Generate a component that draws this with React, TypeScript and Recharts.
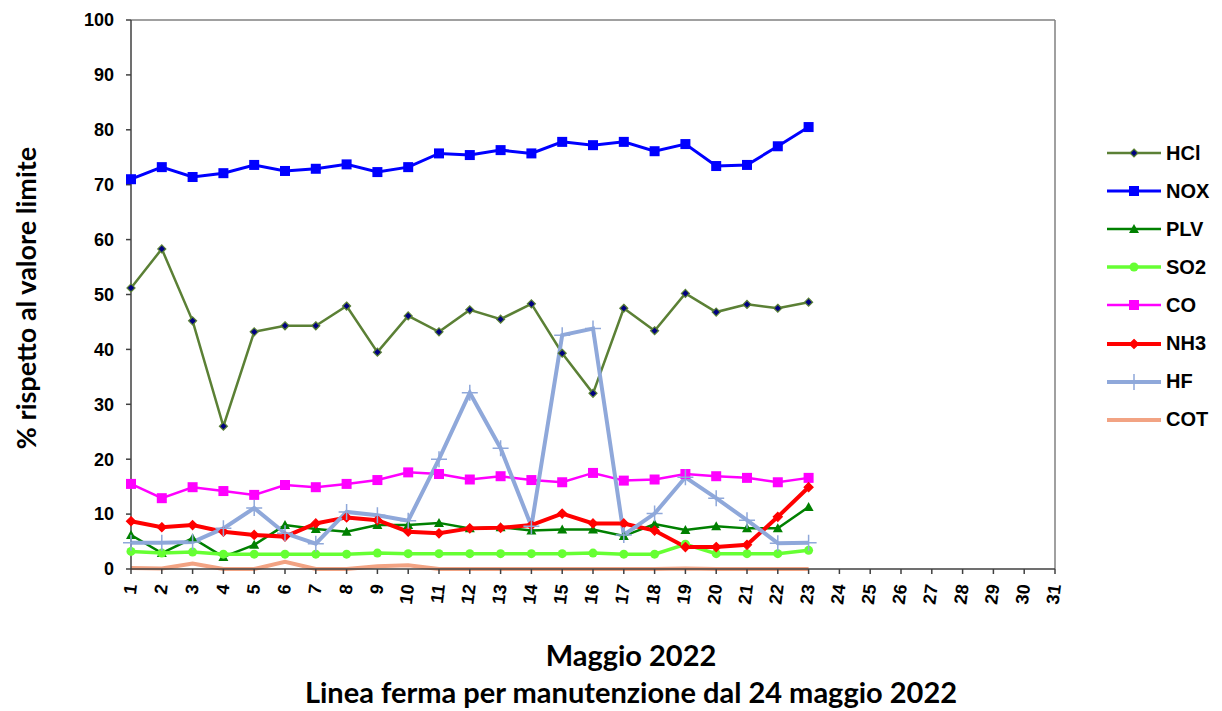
import React from 'react';
import { LineChart, Line, XAxis, YAxis, ReferenceLine } from 'recharts';

// days with measurements (line stopped from May 24)
const days = [1, 2, 3, 4, 5, 6, 7, 8, 9, 10, 11, 12, 13, 14, 15, 16, 17, 18, 19, 20, 21, 22, 23];
const xTicks = [1, 2, 3, 4, 5, 6, 7, 8, 9, 10, 11, 12, 13, 14, 15, 16, 17, 18, 19, 20, 21, 22, 23, 24, 25, 26, 27, 28, 29, 30, 31];
const yTicks = [0, 10, 20, 30, 40, 50, 60, 70, 80, 90, 100];

const hcl = [51.2, 58.3, 45.2, 26.0, 43.2, 44.3, 44.3, 47.9, 39.5, 46.1, 43.2, 47.2, 45.5, 48.3, 39.3, 32.0, 47.5, 43.4, 50.2, 46.8, 48.2, 47.5, 48.6];
const nox = [71.0, 73.2, 71.4, 72.1, 73.6, 72.5, 72.9, 73.7, 72.3, 73.2, 75.7, 75.4, 76.3, 75.7, 77.8, 77.2, 77.8, 76.1, 77.4, 73.4, 73.6, 77.0, 80.5];
const plv = [6.2, 2.9, 5.6, 2.2, 4.4, 8.0, 7.3, 6.8, 8.0, 8.0, 8.4, 7.4, 7.6, 7.0, 7.2, 7.2, 6.0, 8.2, 7.1, 7.8, 7.4, 7.4, 11.3];
const so2 = [3.2, 2.9, 3.1, 2.7, 2.7, 2.7, 2.7, 2.7, 2.9, 2.8, 2.8, 2.8, 2.8, 2.8, 2.8, 2.9, 2.7, 2.7, 4.5, 2.8, 2.8, 2.8, 3.4];
const co = [15.5, 12.9, 14.9, 14.2, 13.5, 15.3, 14.9, 15.5, 16.2, 17.6, 17.3, 16.3, 16.9, 16.2, 15.8, 17.5, 16.1, 16.3, 17.3, 16.9, 16.6, 15.8, 16.6];
const nh3 = [8.7, 7.6, 8.0, 6.8, 6.2, 5.9, 8.3, 9.4, 8.9, 6.8, 6.5, 7.4, 7.5, 8.0, 10.1, 8.3, 8.3, 7.0, 4.0, 4.0, 4.4, 9.5, 14.9];
const hf = [4.8, 4.8, 4.9, 7.4, 11.1, 6.5, 4.6, 10.4, 9.8, 8.8, 20.0, 32.1, 22.0, 7.8, 42.6, 43.8, 6.2, 10.1, 16.7, 12.9, 8.9, 4.7, 4.8];
const cot = [0.2, 0.1, 1.0, 0.0, 0.0, 1.3, 0.0, 0.0, 0.5, 0.7, 0.0, 0.0, 0.0, 0.0, 0.0, 0.0, 0.0, 0.0, 0.1, 0.0, 0.0, 0.0, 0.0];

const data = days.map((d, i) => ({
  day: d,
  HCl: hcl[i],
  NOX: nox[i],
  PLV: plv[i],
  SO2: so2[i],
  CO: co[i],
  NH3: nh3[i],
  HF: hf[i],
  COT: cot[i],
}));

type Marker = 'diamond' | 'square' | 'triangle' | 'circle' | 'smalldiamond' | 'plus' | 'none';

const series: { key: string; color: string; width: number; marker: Marker; size: number; fill: string }[] = [
  { key: 'HCl', color: '#5B8035', width: 2.5, marker: 'diamond', size: 4, fill: '#000080' },
  { key: 'NOX', color: '#0000FF', width: 3, marker: 'square', size: 5, fill: '#0000FF' },
  { key: 'PLV', color: '#008000', width: 2.5, marker: 'triangle', size: 5, fill: '#008000' },
  { key: 'SO2', color: '#66FF33', width: 3.5, marker: 'circle', size: 4.5, fill: '#66FF33' },
  { key: 'CO', color: '#FF00FF', width: 2.5, marker: 'square', size: 5, fill: '#FF00FF' },
  { key: 'NH3', color: '#FF0000', width: 4, marker: 'smalldiamond', size: 4.5, fill: '#FF0000' },
  { key: 'HF', color: '#8FA8DA', width: 4, marker: 'plus', size: 8, fill: '#8FA8DA' },
  { key: 'COT', color: '#F2A383', width: 4, marker: 'none', size: 0, fill: '#F2A383' },
];

const drawMarker = (m: Marker, cx: number, cy: number, s: number, color: string, fill: string, key?: string) => {
  if (m === 'diamond' || m === 'smalldiamond')
    return <path key={key} d={`M${cx},${cy - s}L${cx + s},${cy}L${cx},${cy + s}L${cx - s},${cy}Z`} fill={fill} stroke={color} strokeWidth={1.2} />;
  if (m === 'square')
    return <rect key={key} x={cx - s} y={cy - s} width={s * 2} height={s * 2} fill={fill} />;
  if (m === 'triangle')
    return <path key={key} d={`M${cx},${cy - s}L${cx + s},${cy + s * 0.8}L${cx - s},${cy + s * 0.8}Z`} fill={fill} />;
  if (m === 'circle')
    return <circle key={key} cx={cx} cy={cy} r={s} fill={fill} />;
  if (m === 'plus')
    return <path key={key} d={`M${cx - s},${cy}H${cx + s}M${cx},${cy - s}V${cy + s}`} stroke={color} strokeWidth={1.5} />;
  return <g key={key} />;
};

const makeDot = (sr: (typeof series)[number]) => (props: any) => {
  const { cx, cy, index } = props;
  if (cx == null || cy == null) return <g key={`${sr.key}-${index}`} />;
  return drawMarker(sr.marker, cx, cy, sr.size, sr.color, sr.fill, `${sr.key}-${index}`);
};

const XTick = (props: any) => {
  const { x, payload } = props;
  const ax = x + 6;
  const ay = 585;
  return (
    <text x={ax} y={ay} transform={`rotate(-83 ${ax} ${ay})`} textAnchor="end" fontFamily="'Liberation Sans', Arial, sans-serif" fontWeight="bold" fontSize={18} fill="#000">
      {payload.value}
    </text>
  );
};

const font = "'Liberation Sans', Arial, sans-serif";
const titleFont = "Lato, 'Open Sans', sans-serif";

export default function App() {
  return (
    <div style={{ position: 'absolute', left: 0, top: 0, width: 1222, height: 711, background: '#fff' }}>
      <LineChart width={1222} height={711} data={data} margin={{ top: 20, right: 167, bottom: 102, left: 71 }}>
        <XAxis
          dataKey="day"
          type="number"
          domain={[1, 31]}
          ticks={xTicks}
          interval={0}
          tick={<XTick />}
          tickSize={5}
          stroke="#404040"
          strokeWidth={1.5}
          height={40}
        />
        <YAxis
          type="number"
          domain={[0, 100]}
          ticks={yTicks}
          interval={0}
          width={60}
          tickSize={5}
          tickMargin={12}
          stroke="#404040"
          strokeWidth={1.5}
          tick={{ fill: '#000', fontFamily: font, fontWeight: 'bold', fontSize: 18 }}
        />
        <ReferenceLine y={100} stroke="#808080" strokeWidth={1.5} />
        <ReferenceLine x={31} stroke="#808080" strokeWidth={1.5} />
        {series.map((sr) => (
          <Line
            key={sr.key}
            dataKey={sr.key}
            type="linear"
            stroke={sr.color}
            strokeWidth={sr.width}
            dot={sr.marker === 'none' ? false : makeDot(sr)}
            activeDot={false}
            isAnimationActive={false}
          />
        ))}
      </LineChart>

      {/* y axis title */}
      <div
        style={{
          position: 'absolute',
          left: 25,
          top: 298,
          transform: 'translate(-50%, -50%) rotate(-90deg)',
          whiteSpace: 'nowrap',
          fontFamily: titleFont,
          fontWeight: 'bold',
          fontSize: 27,
        }}
      >
        % rispetto al valore limite
      </div>

      {/* x axis titles */}
      <div style={{ position: 'absolute', left: 0, width: 1262, top: 636, textAlign: 'center', fontFamily: titleFont, fontWeight: 'bold', fontSize: 29, lineHeight: '37px' }}>
        <div>Maggio 2022</div>
        <div>Linea ferma per manutenzione dal 24 maggio 2022</div>
      </div>

      {/* legend */}
      {series.map((sr, i) => (
        <div key={sr.key} style={{ position: 'absolute', left: 1105, top: 153 + i * 38.1 - 12, height: 24, display: 'flex', alignItems: 'center' }}>
          <svg width={58} height={24}>
            <line x1={2} y1={12} x2={56} y2={12} stroke={sr.color} strokeWidth={sr.width} />
            {drawMarker(sr.marker, 29, 12, sr.size, sr.color, sr.fill)}
          </svg>
          <span style={{ fontFamily: font, fontWeight: 'bold', fontSize: 20, marginLeft: 3 }}>{sr.key}</span>
        </div>
      ))}
    </div>
  );
}
